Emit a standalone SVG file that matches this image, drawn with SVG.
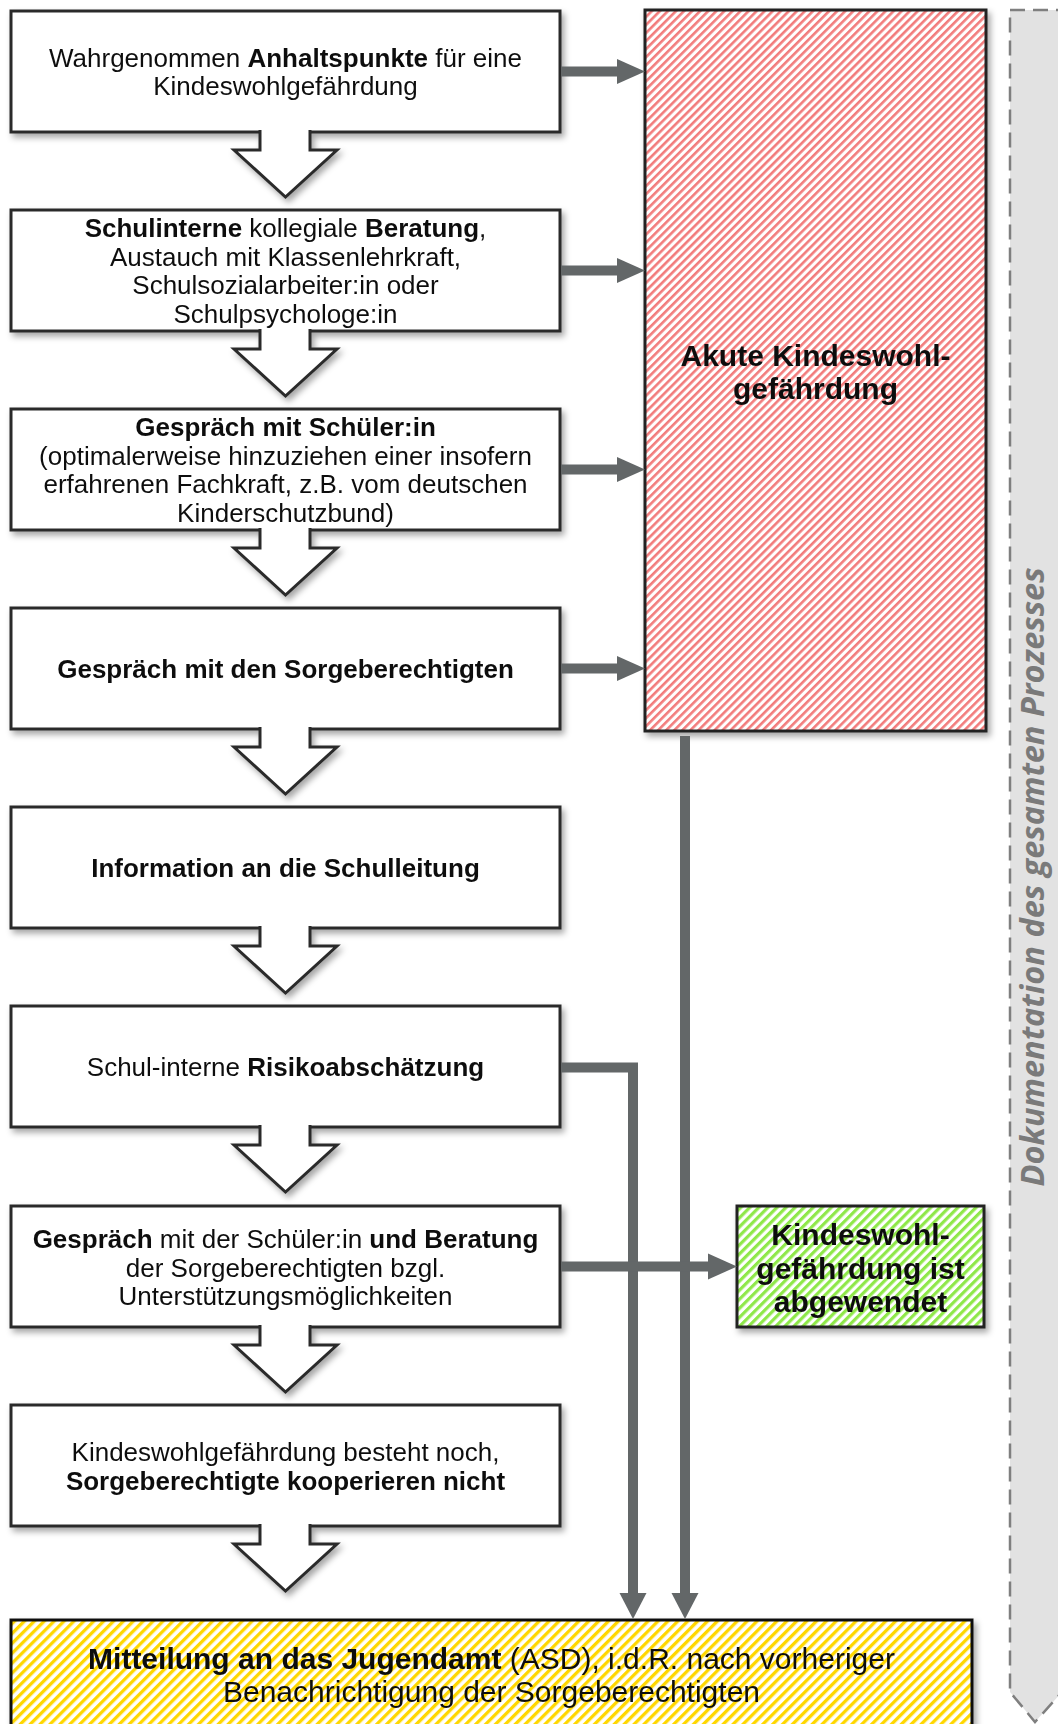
<svg xmlns="http://www.w3.org/2000/svg" width="1058" height="1724" viewBox="0 0 1058 1724">
<style>
.box{fill:#fff;stroke:#2b2b2b;stroke-width:3}
.blk{fill:#fff;stroke:#2b2b2b;stroke-width:3;stroke-linejoin:miter}
.t{font-family:"Liberation Sans",Arial,sans-serif;font-size:26px;fill:#111;text-anchor:middle}
.tb{font-family:"Liberation Sans",Arial,sans-serif;font-size:30px;font-weight:bold;fill:#111;text-anchor:middle}
.b{font-weight:bold}
.con{fill:none;stroke:#636768;stroke-width:10}
.head{fill:#636768}
.doc{font-family:"Open Sans",sans-serif;font-style:italic;font-weight:bold;font-size:32.5px;fill:#7a7a7a;text-anchor:middle}
</style>
<defs>
<filter id="sh" x="-10%" y="-10%" width="130%" height="130%">
<feDropShadow dx="3" dy="4" stdDeviation="3" flood-color="#000" flood-opacity="0.35"/>
</filter>
<pattern id="hRed" patternUnits="userSpaceOnUse" width="5.7" height="10" patternTransform="rotate(45)">
<rect width="5.7" height="10" fill="#fff"/>
<rect width="2.6" height="10" fill="#f27c7c"/>
</pattern>
<pattern id="hGreen" patternUnits="userSpaceOnUse" width="6.4" height="10" patternTransform="rotate(45)">
<rect width="6.4" height="10" fill="#fff"/>
<rect width="3.2" height="10" fill="#8fe84a"/>
</pattern>
<pattern id="hYellow" patternUnits="userSpaceOnUse" width="7" height="10" patternTransform="rotate(45)">
<rect width="7" height="10" fill="#fff"/>
<rect width="3.3" height="10" fill="#ffd700"/>
</pattern>
</defs>
<rect width="1058" height="1724" fill="#fff"/>

<g id="doc-band">
<path d="M1010,10 H1062 V1692 L1035,1722 L1010,1692 Z" fill="#e2e2e2" stroke="#7f7f7f" stroke-width="2.5" stroke-dasharray="15,8"/>
<text class="doc" transform="translate(1044,877) rotate(-90)">Dokumentation des gesamten Prozesses</text>
</g>

<g id="n1" filter="url(#sh)">
<rect class="box" x="11" y="11" width="549" height="121"/>
<path class="blk" d="M260,130 V150 H234 L285.5,197 L337,150 H310 V130"/>
<text class="t" x="285.5" y="66.5">Wahrgenommen <tspan class="b">Anhaltspunkte</tspan> für eine</text>
<text class="t" x="285.5" y="95">Kindeswohlgefährdung</text>
</g>

<g id="n2" filter="url(#sh)">
<rect class="box" x="11" y="210" width="549" height="121"/>
<path class="blk" d="M260,329 V349 H234 L285.5,396 L337,349 H310 V329"/>
<text class="t" x="285.5" y="237"><tspan class="b">Schulinterne</tspan> kollegiale <tspan class="b">Beratung</tspan>,</text>
<text class="t" x="285.5" y="265.5">Austauch mit Klassenlehrkraft,</text>
<text class="t" x="285.5" y="294">Schulsozialarbeiter:in oder</text>
<text class="t" x="285.5" y="322.5">Schulpsychologe:in</text>
</g>

<g id="n3" filter="url(#sh)">
<rect class="box" x="11" y="409" width="549" height="121"/>
<path class="blk" d="M260,528 V548 H234 L285.5,595 L337,548 H310 V528"/>
<text class="t b" x="285.5" y="436">Gespräch mit Schüler:in</text>
<text class="t" x="285.5" y="464.5">(optimalerweise hinzuziehen einer insofern</text>
<text class="t" x="285.5" y="493">erfahrenen Fachkraft, z.B. vom deutschen</text>
<text class="t" x="285.5" y="521.5">Kinderschutzbund)</text>
</g>

<g id="n4" filter="url(#sh)">
<rect class="box" x="11" y="608" width="549" height="121"/>
<path class="blk" d="M260,727 V747 H234 L285.5,794 L337,747 H310 V727"/>
<text class="t b" x="285.5" y="678">Gespräch mit den Sorgeberechtigten</text>
</g>

<g id="n5" filter="url(#sh)">
<rect class="box" x="11" y="807" width="549" height="121"/>
<path class="blk" d="M260,926 V946 H234 L285.5,993 L337,946 H310 V926"/>
<text class="t b" x="285.5" y="877">Information an die Schulleitung</text>
</g>

<g id="n6" filter="url(#sh)">
<rect class="box" x="11" y="1006" width="549" height="121"/>
<path class="blk" d="M260,1125 V1145 H234 L285.5,1192 L337,1145 H310 V1125"/>
<text class="t" x="285.5" y="1076">Schul-interne <tspan class="b">Risikoabschätzung</tspan></text>
</g>

<g id="n7" filter="url(#sh)">
<rect class="box" x="11" y="1206" width="549" height="121"/>
<path class="blk" d="M260,1325 V1345 H234 L285.5,1392 L337,1345 H310 V1325"/>
<text class="t" x="285.5" y="1248"><tspan class="b">Gespräch</tspan> mit der Schüler:in <tspan class="b">und Beratung</tspan></text>
<text class="t" x="285.5" y="1276.5">der Sorgeberechtigten bzgl.</text>
<text class="t" x="285.5" y="1305">Unterstützungsmöglichkeiten</text>
</g>

<g id="n8" filter="url(#sh)">
<rect class="box" x="11" y="1405" width="549" height="121"/>
<path class="blk" d="M260,1524 V1544 H234 L285.5,1591 L337,1544 H310 V1524"/>
<text class="t" x="285.5" y="1461">Kindeswohlgefährdung besteht noch,</text>
<text class="t b" x="285.5" y="1489.5">Sorgeberechtigte kooperieren nicht</text>
</g>

<g id="n9" filter="url(#sh)">
<rect x="11" y="1620" width="961" height="130" fill="url(#hYellow)" stroke="#111" stroke-width="3"/>
<text class="t" style="font-size:30px" x="491.5" y="1669"><tspan class="b">Mitteilung an das Jugendamt</tspan> (ASD), i.d.R. nach vorheriger</text>
<text class="t" style="font-size:30px" x="491.5" y="1702">Benachrichtigung der Sorgeberechtigten</text>
</g>

<g id="akut" filter="url(#sh)">
<rect x="645" y="10" width="341" height="721" fill="url(#hRed)" stroke="#222" stroke-width="3"/>
<text class="tb" x="815.5" y="366">Akute Kindeswohl-</text>
<text class="tb" x="815.5" y="399">gefährdung</text>
</g>

<g id="abgewendet" filter="url(#sh)">
<rect x="737" y="1206" width="247" height="121" fill="url(#hGreen)" stroke="#222" stroke-width="3"/>
<text class="tb" x="860.5" y="1245">Kindeswohl-</text>
<text class="tb" x="860.5" y="1279">gefährdung ist</text>
<text class="tb" x="860.5" y="1312">abgewendet</text>
</g>

<g id="connectors">
<line class="con" x1="561" y1="71.5" x2="619" y2="71.5"/>
<polygon class="head" points="617,59 645,71.5 617,84"/>
<line class="con" x1="561" y1="270.5" x2="619" y2="270.5"/>
<polygon class="head" points="617,258 645,270.5 617,283"/>
<line class="con" x1="561" y1="469.5" x2="619" y2="469.5"/>
<polygon class="head" points="617,457 645,469.5 617,482"/>
<line class="con" x1="561" y1="668.5" x2="619" y2="668.5"/>
<polygon class="head" points="617,656 645,668.5 617,681"/>
<line class="con" x1="685" y1="736" x2="685" y2="1595"/>
<polygon class="head" points="671.5,1593 698.5,1593 685,1619"/>
<polyline class="con" points="561,1067.5 633,1067.5 633,1595"/>
<polygon class="head" points="619.5,1593 646.5,1593 633,1619"/>
<line class="con" x1="561" y1="1266.5" x2="710" y2="1266.5"/>
<polygon class="head" points="708,1253.5 737,1266.5 708,1279.5"/>
</g>
</svg>
